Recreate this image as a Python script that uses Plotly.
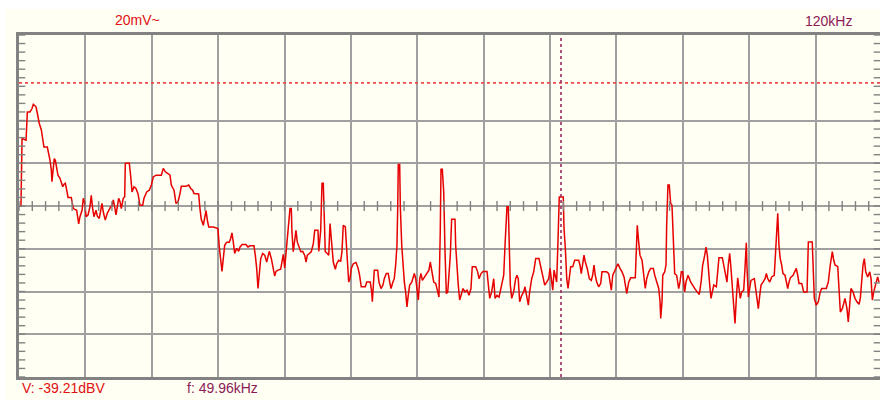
import plotly.graph_objects as go

# Spectrum trace: frequency (kHz) and level (dBV)
FREQ_KHZ = [
    0.18, 0.28, 0.65, 0.77, 1.01, 1.20, 1.32, 1.57, 1.69, 1.87, 2.06, 2.18, 2.30, 2.61, 2.74, 2.86,
    2.98, 3.04, 3.16, 3.25, 3.35, 3.48, 3.59, 3.78, 3.90, 4.03, 4.15, 4.27, 4.40, 4.52, 4.82, 5.01,
    5.32, 5.50, 5.62, 5.81, 5.93, 6.06, 6.18, 6.36, 6.54, 6.66, 6.79, 6.91, 7.10, 7.22, 7.40, 7.53,
    7.65, 7.77, 7.95, 8.14, 8.27, 8.45, 8.57, 8.69, 8.82, 8.94, 9.06, 9.19, 9.31, 9.43, 9.61, 9.74,
    9.80, 10.17, 10.30, 10.42, 10.60, 10.78, 10.97, 11.15, 11.40, 11.52, 11.77, 12.01, 12.20, 12.38,
    12.63, 13.12, 13.30, 13.49, 13.73, 13.92, 14.04, 14.29, 14.47, 14.66, 14.84, 14.96, 15.39, 15.64,
    15.83, 16.01, 16.13, 16.56, 16.68, 16.80, 16.99, 17.12, 17.24, 17.36, 17.49, 17.91, 18.34,
    18.46, 18.59, 18.71, 18.83, 18.96, 19.15, 19.38, 19.51, 19.63, 19.75, 19.88, 20.07, 20.25, 20.37,
    20.56, 20.92, 21.11, 21.29, 21.66, 21.78, 21.91, 22.03, 22.15, 22.28, 22.46, 22.65, 22.83, 22.95,
    23.07, 23.26, 23.44, 23.57, 23.69, 23.87, 24.12, 24.24, 24.36, 24.49, 24.61, 24.73, 24.86, 24.98,
    25.10, 25.16, 25.28, 25.41, 25.53, 25.65, 25.78, 25.97, 26.15, 26.33, 26.46, 26.58, 26.76, 26.94,
    27.13, 27.26, 27.56, 27.63, 27.81, 27.93, 28.05, 28.11, 28.23, 28.42, 28.55, 28.67, 28.85, 28.97,
    29.16, 29.28, 29.47, 29.65, 29.77, 29.89, 30.08, 30.21, 30.39, 30.51, 30.63, 30.81, 31.06, 31.25,
    31.37, 31.55, 31.92, 32.05, 32.38,
    32.51, 32.57, 32.75, 33.06, 33.18, 33.37, 33.55, 33.67, 33.86, 34.04, 34.17, 34.29, 34.47, 34.59,
    34.72, 34.84, 34.91, 34.96, 35.09, 35.15, 35.28, 35.40, 35.52, 35.64, 35.76, 35.88, 36.01, 36.20,
    36.32, 36.44, 36.57, 36.69, 36.81, 36.94, 37.06, 37.18, 37.36, 37.61, 37.79, 37.91, 38.04, 38.23,
    38.41, 38.60, 38.71, 38.83, 38.90, 39.02, 39.15, 39.27, 39.39, 39.52, 39.64, 39.76, 39.88, 40.19,
    40.25, 40.37, 40.49, 40.62, 40.74, 40.93, 41.11, 41.30, 41.48, 41.66, 41.78, 42.10, 42.28, 42.40,
    42.59, 42.77, 43.14, 43.26, 43.39, 43.57, 43.76, 43.88, 44.06, 44.25, 44.43, 44.55, 44.68, 44.80,
    44.98, 45.10, 45.17, 45.29, 45.42, 45.60, 45.78, 45.90, 46.02, 46.15, 46.34, 46.52, 46.64, 46.83,
    46.95, 47.07, 47.26, 47.44, 47.63, 47.93,
    48.14, 48.27, 48.46, 48.64, 48.83, 48.95, 49.07, 49.20, 49.32, 49.44, 49.56, 49.68, 49.80, 50.17,
    50.24, 50.36, 50.49, 50.61, 50.72, 50.85, 51.04, 51.22, 51.59, 51.71, 51.83, 51.96, 52.08, 52.20,
    52.38, 52.57, 52.75, 52.88, 53.00, 53.12, 53.25, 53.43, 53.62, 53.74, 54.17, 54.36, 54.48, 54.60,
    54.73, 54.91, 55.09, 55.21, 55.40, 55.58, 55.77, 55.89, 56.02, 56.20, 56.38, 56.81, 56.87, 56.99,
    57.12, 57.24, 57.43, 57.55, 57.73, 57.86, 58.05, 58.23, 58.47, 58.60, 58.78, 58.97, 59.09, 59.15,
    59.27, 59.34, 59.52, 59.64, 59.70, 59.82, 59.94, 60.07, 60.19, 60.31, 60.44, 60.62, 60.81, 60.93,
    61.05, 61.18, 61.36, 61.48, 61.67, 61.92, 62.16, 62.34, 62.52, 62.71, 62.89, 63.02, 63.21, 63.33,
    63.45, 63.54, 63.67, 63.79, 63.91, 64.04, 64.28, 64.40, 64.52, 64.83, 64.96, 65.08, 65.26, 65.38,
    65.51, 65.63, 65.75, 65.88, 66.00, 66.12, 66.25, 66.37, 66.49, 66.62, 66.80, 66.92, 67.04, 67.11,
    67.23, 67.35, 67.47, 67.78, 67.91, 68.03, 68.15, 68.28, 68.40, 68.58, 68.77, 68.89, 69.02, 69.20,
    69.38, 69.62, 69.75, 69.94, 70.05, 70.17, 70.30, 70.42, 70.61, 70.73, 70.86, 70.98, 71.10, 71.35,
    71.53, 71.65, 71.78, 71.90, 72.15, 72.33, 72.64, 72.76, 73.12, 73.19, 73.31, 73.49, 73.68, 73.86,
    73.99, 74.41, 74.60, 74.78, 74.97, 75.10, 75.22, 75.47, 75.59, 75.71, 75.89, 76.02, 76.14, 76.32,
    76.44, 76.57, 76.69, 76.88, 77.06, 77.24, 77.43, 77.55, 77.68, 77.80, 77.92, 78.05, 78.23, 78.42,
    78.54, 78.66, 78.79, 78.91, 79.02, 79.15, 79.27,
]
LEVEL_DBV = [
    -68.2, -52.2, -52.6, -46.0, -46.0, -45.2, -44.2, -44.8, -46.3, -48.7, -50.2, -51.8, -54.2, -54.2, -55.7, -57.3,
    -59.6, -62.3, -59.2, -56.9, -57.3, -59.6, -60.8, -61.5, -62.7, -63.5, -62.9, -62.7, -64.3, -66.0, -66.0, -68.6,
    -69.0, -72.2, -70.5, -69.0, -66.2, -67.4, -70.5, -70.1, -68.2, -65.5, -68.6, -70.5, -69.0, -70.4, -70.9, -69.0,
    -67.4, -69.4, -71.3, -69.7, -69.0, -68.2, -68.0, -66.6, -68.2, -70.1, -68.2, -66.2, -67.0, -68.6, -66.2, -65.9,
    -58.0, -58.0, -61.2, -64.7, -63.5, -63.9, -65.1, -67.8, -67.8, -66.2, -64.7, -64.3, -63.1, -61.2,
    -60.8, -60.8, -59.2, -60.0, -60.4, -60.8, -63.1, -64.3, -67.4, -67.0, -65.1, -63.4, -63.4, -63.1,
    -63.9, -64.3, -65.1, -65.2, -68.6, -71.1, -72.5, -70.5, -69.1, -71.3, -72.9, -72.9, -73.3,
    -77.6, -80.3, -83.3, -80.3, -77.2, -76.5, -76.5, -75.6, -74.3, -76.4, -79.1, -77.9, -78.6, -77.6,
    -77.0, -77.0, -77.6, -77.3, -77.3, -79.5, -82.6, -87.3, -83.8, -80.3, -79.1, -79.5, -81.1, -79.5,
    -78.6, -80.3, -82.6, -84.4, -83.3, -83.0, -82.8, -80.9, -79.3, -82.5, -78.7, -74.4, -71.7, -68.6,
    -68.6, -74.1, -78.7, -75.6, -73.7, -76.4, -77.2, -78.7, -78.6, -79.5, -81.1, -79.5, -79.1, -78.7,
    -76.8, -73.7, -73.7, -78.6, -73.7, -62.7, -62.7, -70.5, -78.7, -79.1, -79.5, -72.1, -77.2, -81.1,
    -82.8, -81.5, -80.7, -80.9, -78.7, -72.5, -72.9, -79.5, -85.8, -85.0, -82.6, -81.5, -81.2, -82.5,
    -83.8, -86.9, -86.9, -85.8, -85.8,
    -88.1, -90.4, -83.0, -83.0, -85.8, -87.3, -86.5, -85.0, -83.8, -83.8, -85.8, -87.3, -85.8, -85.0,
    -81.8, -77.2, -68.2, -58.3, -58.3, -68.2, -77.2, -81.8, -85.8, -88.1, -91.6, -88.9, -86.5, -85.8,
    -85.0, -83.8, -85.0, -87.3, -90.0, -85.0, -83.8, -85.4, -84.6, -83.8, -83.0, -81.1, -83.4, -85.8,
    -86.1, -88.1, -89.3, -74.1, -59.4, -59.4, -64.7, -78.7, -88.5, -88.1, -83.4, -79.5, -71.1, -71.1,
    -77.2, -82.6, -86.5, -90.0, -88.9, -87.3, -88.1, -87.7, -88.9, -87.3, -82.2, -82.2, -83.4, -85.0,
    -83.8, -83.3, -83.3, -85.8, -89.6, -88.1, -85.0, -89.6, -88.9, -89.3, -87.3, -85.8, -84.2, -77.2,
    -68.2, -68.2, -77.2, -86.5, -89.6, -88.1, -85.0, -84.2, -85.0, -90.4, -88.9, -88.1, -86.9, -89.3,
    -91.2, -88.1, -85.0, -83.4, -80.3, -80.3,
    -82.6, -84.6, -86.5, -85.8, -85.0, -82.6, -85.8, -87.7, -83.0, -84.6, -85.8, -76.4, -65.9, -65.9,
    -73.3, -77.9, -85.0, -87.3, -85.0, -82.2, -82.2, -80.7, -80.7, -81.8, -83.8, -81.5, -79.5, -81.1,
    -82.6, -85.0, -85.4, -84.2, -81.8, -84.2, -85.8, -86.9, -86.1, -83.4, -83.4, -83.8, -86.5, -87.7,
    -84.2, -83.0, -82.2, -81.5, -82.6, -83.4, -84.6, -86.5, -88.5, -85.8, -84.8, -84.8, -78.7, -72.5,
    -76.4, -79.5, -80.7, -83.4, -87.3, -85.0, -83.4, -82.6, -82.6, -84.2, -85.8, -87.3, -90.4, -94.3,
    -90.4, -84.2, -83.4, -81.8, -72.5, -63.1, -63.1, -67.4, -67.8, -76.4, -83.8, -84.2, -87.3, -85.8,
    -83.4, -83.4, -88.1, -85.8, -84.2, -85.8, -86.9, -87.5, -88.1, -88.7, -85.4, -81.8, -79.5, -77.6,
    -79.5, -83.0, -86.5, -89.6, -88.1, -86.5, -86.9, -83.4, -80.1, -80.1, -81.8, -84.2, -85.8, -81.8,
    -79.1, -82.6, -86.5, -91.2, -95.5, -89.6, -84.8, -87.3, -89.6, -88.1, -87.7, -82.6, -76.6, -82.6,
    -89.3, -87.3, -85.4, -85.0, -87.3, -89.6, -92.0, -88.9, -86.5, -85.8, -85.0, -83.8, -85.0, -85.8,
    -84.6, -84.2, -77.2, -69.7, -77.2, -80.3, -81.8, -83.8, -84.2, -85.8, -87.3, -85.8, -84.8, -84.2,
    -83.4, -82.6, -84.2, -86.1, -86.1, -88.1, -88.1, -76.4, -76.4, -83.0, -89.6, -91.2, -90.4, -88.1,
    -87.3, -87.3, -85.8, -81.8, -78.7, -80.7, -81.8, -82.2, -87.7, -92.8, -92.0, -90.4, -89.6, -92.0,
    -95.1, -91.2, -87.3, -88.1, -89.6, -90.4, -91.0, -89.6, -85.0, -81.8, -80.3, -83.4, -84.6, -83.4,
    -85.0, -90.0, -88.1, -86.5, -85.8, -84.6, -85.8,
]

# Readouts
RANGE_LABEL = "20mV~"
SPAN_LABEL = "120kHz"
REF_LEVEL_DBV = -39.21   # horizontal marker level
CURSOR_KHZ = 49.96       # frequency cursor

# Screen scale: 13 x 8 divisions, 10 dB per division
DIV_KHZ = 6.1193
X_RANGE = [0.0, 79.365]
Y_RANGE = [-108.0, -28.0]
CENTER_DB = -68.0
GRID_DB = [-108, -98, -88, -78, -68, -58, -48, -28]

W, H = 880, 400
M_L, M_R, M_T, M_B = 19, 0, 35, 23

GRID_COLOR = "#a0a0a0"
FRAME_COLOR = "#828282"
TRACE_RED = "#e60000"
LABEL_RED = "#e01010"
LABEL_PURPLE = "#8c1a55"
BG = "#fffff4"

fig = go.Figure()

# spectrum trace
fig.add_trace(go.Scatter(
    x=FREQ_KHZ, y=LEVEL_DBV, mode="lines",
    line=dict(color=TRACE_RED, width=1.5),
    hoverinfo="skip", showlegend=False,
))

# small subdivision ticks along the centre line (5 per division)
n_minor_x = int(round(X_RANGE[1] / (DIV_KHZ / 5))) + 1
minor_x = [i * DIV_KHZ / 5 for i in range(n_minor_x)]
fig.add_trace(go.Scatter(
    x=minor_x, y=[CENTER_DB] * len(minor_x), mode="markers",
    marker=dict(symbol="line-ns", size=7, color=FRAME_COLOR,
                line=dict(width=1.4, color=FRAME_COLOR)),
    hoverinfo="skip", showlegend=False,
))

# subdivision ticks on the left and right edges (2 dB apart)
minor_y = [Y_RANGE[0] + 2 * i for i in range(41)]
for xe in (X_RANGE[0], X_RANGE[1]):
    fig.add_trace(go.Scatter(
        x=[xe] * len(minor_y), y=minor_y, mode="markers",
        marker=dict(symbol="line-ew", size=9, color=FRAME_COLOR,
                    line=dict(width=1.4, color=FRAME_COLOR)),
        hoverinfo="skip", showlegend=False,
    ))

shapes = [
    # white strips around the panel
    dict(type="rect", xref="paper", yref="paper", layer="below",
         x0=-0.1, x1=(5 - M_L) / (W - M_L - M_R), y0=-0.2, y1=1.2,
         fillcolor="white", line=dict(width=0)),
    dict(type="rect", xref="paper", yref="paper", layer="below",
         x0=-0.1, x1=1.1, y0=(H - M_B - 9) / (H - M_T - M_B), y1=1.2,
         fillcolor="white", line=dict(width=0)),
    # reference level marker
    dict(type="line", xref="paper", yref="y", x0=0, x1=1,
         y0=REF_LEVEL_DBV, y1=REF_LEVEL_DBV,
         line=dict(color="#ee4848", width=1.6, dash="3px,3px")),
    # frequency cursor
    dict(type="line", xref="x", yref="paper", x0=CURSOR_KHZ, x1=CURSOR_KHZ,
         y0=0, y1=1,
         line=dict(color="#98285f", width=1.6, dash="3px,3px")),
]

font = dict(family="Liberation Sans, Arial, sans-serif", size=14)
annotations = [
    dict(text=RANGE_LABEL, xref="paper", yref="paper", x=(113 - M_L) / 861, y=1.045,
         xanchor="left", yanchor="middle", showarrow=False,
         font=dict(font, color=LABEL_RED)),
    dict(text=SPAN_LABEL, xref="paper", yref="paper", x=(803 - M_L) / 861, y=1.041,
         xanchor="left", yanchor="middle", showarrow=False,
         font=dict(font, color=LABEL_PURPLE)),
    dict(text=f"V: {REF_LEVEL_DBV:.2f}dBV", xref="paper", yref="paper", x=(20 - M_L) / 861,
         y=-0.032, xanchor="left", yanchor="middle", showarrow=False,
         font=dict(font, color=LABEL_RED)),
    dict(text=f"f: {CURSOR_KHZ:.2f}kHz", xref="paper", yref="paper", x=(185 - M_L) / 861,
         y=-0.032, xanchor="left", yanchor="middle", showarrow=False,
         font=dict(font, color=LABEL_PURPLE)),
]

fig.update_layout(
    width=W, height=H,
    margin=dict(l=M_L, r=M_R, t=M_T, b=M_B, pad=0),
    paper_bgcolor=BG, plot_bgcolor=BG,
    shapes=shapes, annotations=annotations,
    xaxis=dict(range=X_RANGE, tick0=0, dtick=DIV_KHZ, showticklabels=False, ticks="",
               showgrid=True, gridcolor=GRID_COLOR, gridwidth=1.7, zeroline=False,
               showline=True, linecolor=FRAME_COLOR, linewidth=2.8, mirror=True,
               fixedrange=True),
    yaxis=dict(range=Y_RANGE, tickvals=GRID_DB, showticklabels=False, ticks="",
               showgrid=True, gridcolor=GRID_COLOR, gridwidth=1.7, zeroline=False,
               showline=True, linecolor=FRAME_COLOR, linewidth=2.8, mirror=False,
               fixedrange=True),
    showlegend=False,
)

fig.write_html("out.html")
